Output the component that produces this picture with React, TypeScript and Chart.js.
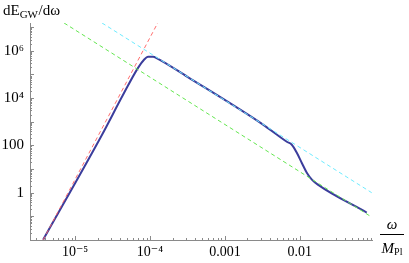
import React, { useEffect, useRef } from "react";
import { Chart, registerables } from "chart.js";

Chart.register(...registerables);

// ---- data ----
const spectrumOmega = [3.74e-6, 2.29e-5, 4.37e-5, 6.92e-5, 8.32e-5, 9.4e-5, 1.1e-4, 1.24e-4, 3.16e-4, 3.16e-3, 6.71e-3, 7.82e-3, 9.12e-3, 1.06e-2, 1.24e-2, 1.45e-2, 1.74e-2, 7.82e-2];
const spectrumValue = [0.0102, 282, 1.38e4, 1.9e5, 4.17e5, 5.6e5, 5.6e5, 4.8e5, 7.9e4, 794, 143, 107, 49, 18.6, 7.0, 3.55, 2.19, 0.145];

const redOmega = [3.74e-6, 1.28e-4];
const redValue = [0.01, 1.6e7];

const cyanOmega = [2.29e-5, 0.0912];
const cyanValue = [1.5e7, 1.0];

const greenOmega = [7.13e-6, 0.0912];
const greenValue = [1.5e7, 0.093];

const xTickValues = [1e-5, 1e-4, 1e-3, 1e-2];
const xTickLabels = ["10⁻⁵", "10⁻⁴", "0.001", "0.01"];
const yTickValues = [1, 100, 1e4, 1e6];
const yTickLabels = ["1", "100", "10⁴", "10⁶"];

const xDecades = [1e-6, 1e-5, 1e-4, 1e-3, 1e-2];
const yDecades = [1e-2, 1e-1, 1, 10, 100, 1e3, 1e4, 1e5, 1e6, 1e7];
const minorMultipliers = [1, 2, 3, 4, 5, 6, 7, 8, 9];

const FONT = '"Liberation Serif", "DejaVu Serif", serif';
const AXIS_COLOR = "#8a8a8a";

const pts = (xs: number[], ys: number[]) => xs.map((x, i) => ({ x, y: ys[i] }));

const decorPlugin = {
  id: "decor",
  afterDraw(chart: any) {
    const { ctx, chartArea, scales } = chart;
    const xs = scales.x;
    const ys = scales.y;
    ctx.save();
    ctx.strokeStyle = AXIS_COLOR;
    ctx.lineWidth = 1;
    for (const d of xDecades) {
      for (const m of minorMultipliers) {
        const v = d * m;
        if (v < xs.min || v > xs.max) continue;
        const px = Math.round(xs.getPixelForValue(v)) + 0.5;
        const len = m === 1 ? 4 : 2;
        ctx.beginPath();
        ctx.moveTo(px, chartArea.bottom);
        ctx.lineTo(px, chartArea.bottom - len);
        ctx.stroke();
      }
    }
    for (const d of yDecades) {
      for (const m of minorMultipliers) {
        const v = d * m;
        if (v < ys.min || v > ys.max) continue;
        const py = Math.round(ys.getPixelForValue(v)) + 0.5;
        const len = m === 1 ? 4 : 2;
        ctx.beginPath();
        ctx.moveTo(chartArea.left, py);
        ctx.lineTo(chartArea.left + len, py);
        ctx.stroke();
      }
    }
    // y axis title: dE_GW/dω
    ctx.fillStyle = "#000";
    ctx.textBaseline = "alphabetic";
    ctx.textAlign = "left";
    let x = 3;
    ctx.font = `15px ${FONT}`;
    ctx.fillText("dE", x, 15);
    x += ctx.measureText("dE").width;
    ctx.font = `11px ${FONT}`;
    ctx.fillText("GW", x, 18);
    x += ctx.measureText("GW").width + 0.5;
    ctx.font = `15px ${FONT}`;
    ctx.fillText("/dω", x, 15);
    // x axis title: ω / M_Pl
    const cx = 392;
    ctx.textAlign = "center";
    ctx.font = `italic 15px ${FONT}`;
    ctx.fillText("ω", cx, 229);
    ctx.beginPath();
    ctx.strokeStyle = "#000";
    ctx.moveTo(380, 234.5);
    ctx.lineTo(404, 234.5);
    ctx.stroke();
    ctx.textAlign = "left";
    ctx.font = `italic 15px ${FONT}`;
    const mW = ctx.measureText("M").width;
    ctx.font = `10px ${FONT}`;
    const plW = ctx.measureText("Pl").width;
    const startX = cx - (mW + plW) / 2;
    ctx.font = `italic 15px ${FONT}`;
    ctx.fillText("M", startX, 253);
    ctx.font = `10px ${FONT}`;
    ctx.fillText("Pl", startX + mW, 255);
    ctx.restore();
  },
};

export default function App() {
  const canvasRef = useRef<HTMLCanvasElement | null>(null);

  useEffect(() => {
    document.body.style.margin = "0";
    const canvas = canvasRef.current;
    if (!canvas) return;
    const chart = new Chart(canvas, {
      type: "line",
      data: {
        datasets: [
          {
            data: pts(redOmega, redValue),
            borderColor: "rgba(255,95,95,0.9)",
            borderWidth: 1,
            borderDash: [4, 3],
            pointRadius: 0,
            order: 1,
          },
          {
            data: pts(cyanOmega, cyanValue),
            borderColor: "rgb(110,235,255)",
            borderWidth: 1,
            borderDash: [4, 3],
            pointRadius: 0,
            order: 1,
          },
          {
            data: pts(greenOmega, greenValue),
            borderColor: "rgb(100,230,80)",
            borderWidth: 1,
            borderDash: [4, 3],
            pointRadius: 0,
            order: 1,
          },
          {
            data: pts(spectrumOmega, spectrumValue),
            borderColor: "#3b3d9c",
            borderWidth: 2,
            pointRadius: 0,
            cubicInterpolationMode: "monotone",
            order: 5,
          },
        ],
      },
      options: {
        responsive: false,
        animation: false,
        layout: { padding: { left: 0, right: 37, top: 23, bottom: 0 } },
        plugins: { legend: { display: false }, tooltip: { enabled: false } },
        scales: {
          x: {
            type: "logarithmic",
            min: 2.5e-6,
            max: 0.092,
            grid: { display: true, drawOnChartArea: false, drawTicks: false },
            border: { display: true, color: AXIS_COLOR, width: 1 },
            ticks: {
              autoSkip: false,
              maxRotation: 0,
              padding: 4,
              color: "#000",
              font: { family: FONT, size: 14 },
              callback: (v: any) => {
                const i = xTickValues.findIndex((t) => Math.abs(t - v) / t < 1e-6);
                return i >= 0 ? xTickLabels[i] : "";
              },
            },
            afterBuildTicks: (s: any) => {
              s.ticks = xTickValues.map((v) => ({ value: v }));
            },
            afterFit: (s: any) => {
              s.height = 23;
            },
          },
          y: {
            type: "logarithmic",
            min: 0.01,
            max: 1.5e7,
            grid: { display: true, drawOnChartArea: false, drawTicks: false },
            border: { display: true, color: AXIS_COLOR, width: 1 },
            ticks: {
              autoSkip: false,
              padding: 6,
              color: "#000",
              font: { family: FONT, size: 15 },
              callback: (v: any) => {
                const i = yTickValues.findIndex((t) => Math.abs(t - v) / t < 1e-6);
                return i >= 0 ? yTickLabels[i] : "";
              },
            },
            afterBuildTicks: (s: any) => {
              s.ticks = yTickValues.map((v) => ({ value: v }));
            },
            afterFit: (s: any) => {
              s.width = 30;
            },
          },
        },
      },
      plugins: [decorPlugin],
    });
    return () => chart.destroy();
  }, []);

  return <canvas ref={canvasRef} width={409} height={263} style={{ display: "block" }} />;
}
